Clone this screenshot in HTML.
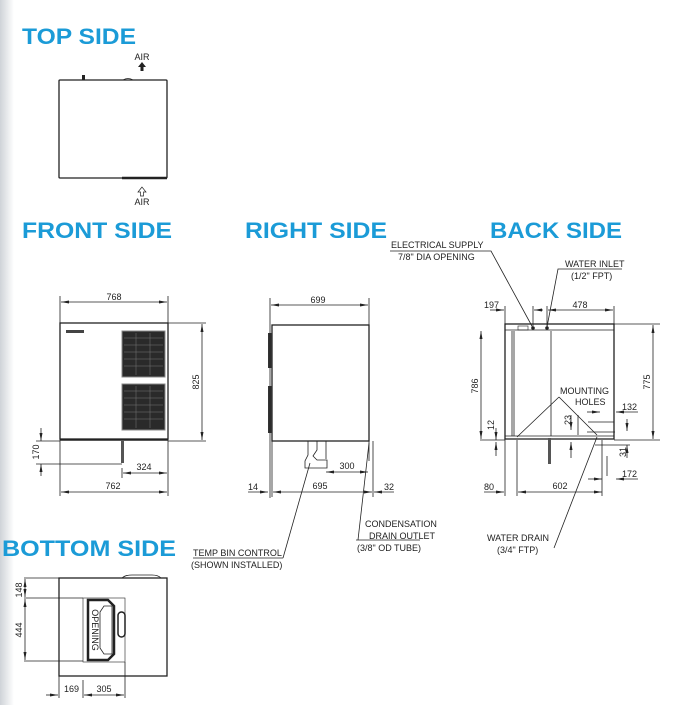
<!DOCTYPE html>
<html><head><meta charset="utf-8"><style>
html,body{margin:0;padding:0;background:#fff;width:677px;height:705px;overflow:hidden}
svg{display:block}
.t{font-family:"Liberation Sans",sans-serif;font-weight:bold;fill:#1b9bd7;font-size:22px}
.d{font-family:"Liberation Sans",sans-serif;font-size:9px;fill:#222}
.l{stroke:#222;stroke-width:0.8;fill:none}
.b{stroke:#222;stroke-width:1.3;fill:#fff}
</style></head><body>
<svg width="677" height="705" viewBox="0 0 677 705">
<defs>
<linearGradient id="g" x1="0" x2="1"><stop offset="0" stop-color="#cfd3d8"/><stop offset="1" stop-color="#fff"/></linearGradient>
<marker id="a" markerWidth="8" markerHeight="6" refX="8" refY="3" orient="auto-start-reverse" markerUnits="userSpaceOnUse"><path d="M0,1.5L8,3L0,4.5z" fill="#222"/></marker>
</defs>
<rect x="0" y="0" width="14" height="705" fill="url(#g)"/>
<text class="t" x="22" y="44" textLength="114" lengthAdjust="spacingAndGlyphs">TOP SIDE</text>
<text class="t" x="22" y="238" textLength="150" lengthAdjust="spacingAndGlyphs">FRONT SIDE</text>
<text class="t" x="245" y="238" textLength="142" lengthAdjust="spacingAndGlyphs">RIGHT SIDE</text>
<text class="t" x="490" y="238" textLength="132" lengthAdjust="spacingAndGlyphs">BACK SIDE</text>
<text class="t" x="2" y="556" textLength="174" lengthAdjust="spacingAndGlyphs">BOTTOM SIDE</text>

<!-- TOP -->
<rect class="b" x="59" y="80" width="108" height="98" rx="1"/>
<rect x="82" y="75" width="3" height="5" fill="#222"/>
<path d="M123,80 q5,-3 10,0" class="l"/>
<path d="M122,178 h45" stroke="#222" stroke-width="2.5"/>
<text class="d" x="142" y="60" text-anchor="middle" font-size="7">AIR</text>
<path d="M142,62 l-4,5 h2.5 v4 h3 v-4 h2.5z" fill="#222"/>
<path d="M142,187 l-4,5 h2.5 v4 h3 v-4 h2.5z" fill="#fff" stroke="#222" stroke-width="0.7"/>
<text class="d" x="142" y="205" text-anchor="middle" font-size="7">AIR</text>

<!-- FRONT -->
<rect class="b" x="60" y="323" width="108" height="116"/>
<rect x="66" y="330" width="18" height="3" fill="#444"/>
<rect x="122" y="331" width="43" height="46" fill="#2a2a2a" stroke="#888" stroke-width="1"/>
<rect x="122" y="384" width="43" height="46" fill="#2a2a2a" stroke="#888" stroke-width="1"/>
<g stroke="#777" stroke-width="0.5"><path d="M124,338h39M124,345h39M124,352h39M124,359h39M124,366h39M124,391h39M124,398h39M124,405h39M124,412h39M124,419h39M136,333v42M150,333v42M136,386v42M150,386v42"/></g>
<path d="M60,440 h108" stroke="#222" stroke-width="1.5"/>
<rect x="121" y="440" width="3" height="23" fill="#555"/>
<path class="l" d="M60,296v200 M168,296v200 M168,323h38 M168,441h38 M36,441h24 M36,464h86 M122,468v10"/>
<path class="l" d="M61,302h106" marker-start="url(#a)" marker-end="url(#a)"/>
<text class="d" x="114" y="300" text-anchor="middle">768</text>
<path class="l" d="M202,324v116" marker-start="url(#a)" marker-end="url(#a)"/>
<text class="d" x="0" y="0" transform="translate(199,382) rotate(-90)" text-anchor="middle">825</text>
<path class="l" d="M41,428v13" marker-end="url(#a)"/><path class="l" d="M41,476v-12" marker-end="url(#a)"/>
<text class="d" transform="translate(39,452) rotate(-90)" text-anchor="middle">170</text>
<path class="l" d="M123,473h44" marker-start="url(#a)" marker-end="url(#a)"/>
<text class="d" x="144" y="470" text-anchor="middle">324</text>
<path class="l" d="M61,492h106" marker-start="url(#a)" marker-end="url(#a)"/>
<text class="d" x="113" y="489" text-anchor="middle">762</text>

<!-- RIGHT -->
<rect class="b" x="272" y="325" width="97" height="116"/>
<rect x="268" y="333" width="4" height="35" fill="#333"/>
<rect x="268" y="386" width="4" height="47" fill="#333"/>
<path class="l" d="M270,298v200 M272,441v56 M369,298v28 M373,441v56 M369,441v20"/>
<path class="l" d="M271,305h97" marker-start="url(#a)" marker-end="url(#a)"/>
<text class="d" x="318" y="303" text-anchor="middle">699</text>
<path class="l" d="M308,441v14 l-3,6 v7 h22 v-8 h-10 l-4,-4 l4,-6 v-9"/>
<path class="l" d="M326,441v18"/>
<path class="l" d="M326,472h42" marker-start="url(#a)" marker-end="url(#a)"/>
<text class="d" x="347" y="469" text-anchor="middle">300</text>
<path class="l" d="M248,492h20" marker-end="url(#a)"/>
<text class="d" x="248" y="490">14</text>
<path class="l" d="M273,492h99" marker-start="url(#a)" marker-end="url(#a)"/>
<text class="d" x="320" y="489" text-anchor="middle">695</text>
<path class="l" d="M394,492h-20" marker-end="url(#a)"/>
<text class="d" x="384" y="490">32</text>
<path class="l" d="M283,558L310,463 M193,558h90"/>
<text class="d" x="193" y="556">TEMP BIN CONTROL</text>
<text class="d" x="191" y="568">(SHOWN INSTALLED)</text>
<path class="l" d="M358,540L369,443 M356,540h64"/>
<text class="d" x="365" y="527">CONDENSATION</text>
<text class="d" x="369" y="539">DRAIN OUTLET</text>
<text class="d" x="357" y="551">(3/8" OD TUBE)</text>

<!-- BACK -->
<rect class="b" x="505" y="324" width="109" height="115"/>
<path class="l" d="M505,330h109 M512,331v105 M514,331v105 M551,331v105 M505,436h109"/>
<rect x="518" y="326" width="10" height="4" fill="none" stroke="#222" stroke-width="0.6"/>
<circle cx="533" cy="328" r="1.8" fill="#222"/><circle cx="547" cy="328" r="1.8" fill="#222"/>
<rect x="548" y="438" width="3" height="26" fill="#555"/>
<path class="l" d="M505,306v190 M533,306v20 M547,306v20 M614,306v120 M480,440h25 M614,324h46 M614,440h46 M517,440v56 M602,440v56 M578,415v20 M587,432h28 M595,445h35 M607,476v-20 M588,422h26"/>
<path class="l" d="M490,310h14" marker-end="url(#a)"/><path class="l" d="M543,310h-9" marker-end="url(#a)"/>
<path class="l" d="M548,310h65" marker-start="url(#a)" marker-end="url(#a)"/>
<text class="d" x="484" y="308">197</text>
<text class="d" x="580" y="308" text-anchor="middle">478</text>
<path class="l" d="M481,331v108" marker-start="url(#a)" marker-end="url(#a)"/>
<text class="d" transform="translate(478,386) rotate(-90)" text-anchor="middle">786</text>
<path class="l" d="M653,325v114" marker-start="url(#a)" marker-end="url(#a)"/>
<text class="d" transform="translate(650,382) rotate(-90)" text-anchor="middle">775</text>
<path class="l" d="M496,428v12" marker-end="url(#a)"/><path class="l" d="M496,456v-14" marker-end="url(#a)"/>
<text class="d" transform="translate(494,425) rotate(-90)" text-anchor="middle">12</text>
<path class="l" d="M571,415v15" marker-end="url(#a)"/><path class="l" d="M571,458v-16" marker-end="url(#a)"/>
<text class="d" transform="translate(571,420) rotate(-90)" text-anchor="middle">23</text>
<path class="l" d="M627,419v12" marker-end="url(#a)"/><path class="l" d="M627,458v-13" marker-end="url(#a)"/>
<text class="d" transform="translate(626,452) rotate(-90)" text-anchor="middle">31</text>
<path class="l" d="M587,412h13" marker-end="url(#a)"/><path class="l" d="M638,412h-22" marker-end="url(#a)"/>
<text class="d" x="622" y="410">132</text>
<path class="l" d="M588,479h14" marker-end="url(#a)"/><path class="l" d="M638,479h-22" marker-end="url(#a)"/>
<text class="d" x="622" y="477">172</text>
<path class="l" d="M484,492h20" marker-end="url(#a)"/><text class="d" x="484" y="490">80</text>
<path class="l" d="M518,492h84" marker-start="url(#a)" marker-end="url(#a)"/>
<text class="d" x="560" y="489" text-anchor="middle">602</text>
<text class="d" x="391" y="248">ELECTRICAL SUPPLY</text>
<text class="d" x="398" y="260">7/8" DIA OPENING</text>
<path class="l" d="M390,251h101L533,328"/>
<text class="d" x="565" y="267">WATER INLET</text>
<text class="d" x="571" y="279">(1/2" FPT)</text>
<path class="l" d="M622,269h-64L547,327"/>
<text class="d" x="560" y="394">MOUNTING</text>
<text class="d" x="575" y="405">HOLES</text>
<path class="l" d="M559,397L517,437 M559,397L597,435"/>
<text class="d" x="487" y="541">WATER DRAIN</text>
<text class="d" x="497" y="553">(3/4" FTP)</text>
<path class="l" d="M554,548L597,437"/>

<!-- BOTTOM -->
<rect class="b" x="59" y="578" width="108" height="98"/>
<path class="l" d="M122,578 q3,-3 10,-3 h20 q6,0 9,3"/>
<rect x="83" y="598" width="42" height="64" fill="#fff" stroke="#222" stroke-width="0.6"/>
<path d="M88,600 h20 l6,6 v48 l-6,6 h-20 z" fill="#fff" stroke="#222" stroke-width="2.5"/>
<path class="l" d="M104,606 h8 v48 h-8 l-4,-6 v-36z"/>
<rect x="118" y="612" width="7" height="25" rx="3.5" fill="#fff" stroke="#222" stroke-width="1.5"/>
<text class="d" transform="translate(92,630) rotate(90)" text-anchor="middle" font-size="8">OPENING</text>
<path class="l" d="M24,578h35 M24,598h59 M24,661h59 M59,676v22 M83,680v18 M125,662v36"/>
<path class="l" d="M25,579v18" marker-start="url(#a)" marker-end="url(#a)"/>
<text class="d" transform="translate(22,590) rotate(-90)" text-anchor="middle">148</text>
<path class="l" d="M25,599v61" marker-start="url(#a)" marker-end="url(#a)"/>
<text class="d" transform="translate(22,630) rotate(-90)" text-anchor="middle">444</text>
<path class="l" d="M46,695h12" marker-end="url(#a)"/>
<text class="d" x="64" y="692">169</text>
<path class="l" d="M84,695h40" marker-start="url(#a)" marker-end="url(#a)"/>
<text class="d" x="104" y="692" text-anchor="middle">305</text>
</svg>
</body></html>
